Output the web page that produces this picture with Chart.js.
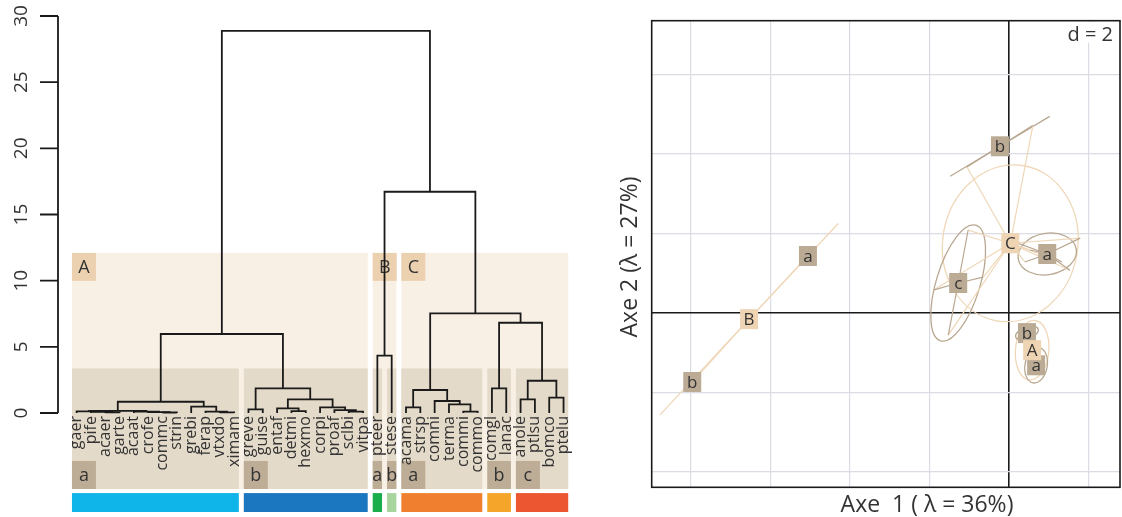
<!DOCTYPE html>
<html>
<head>
<meta charset="utf-8">
<script src="https://cdn.jsdelivr.net/npm/chart.js@4.4.0/dist/chart.umd.min.js"></script>
<style>
  html, body { margin: 0; padding: 0; background: #fff; }
  #wrap { position: relative; width: 1122px; height: 517px; }
  #dendro { position: absolute; left: 0; top: 0; }
  #ordi { position: absolute; left: 600px; top: 0; }
</style>
</head>
<body>
<div id="wrap">
  <canvas id="dendro" width="600" height="517"></canvas>
  <canvas id="ordi" width="522" height="517"></canvas>
</div>
<script>
// ---------- dendrogram data ----------
const leafNames = ["gaer","pife","acaer","garte","acaat","crofe","commc","strin","grebi","ferap","vtxdo","ximam",
  "greve","guise","entaf","detmi","hexmo","corpi","proaf","sclbi","vitpa",
  "pteer","stese",
  "acama","strsp","comni","terma","commi","commo",
  "comgl","lanac",
  "anole","ptlsu","bomco","ptelu"];
// hclust style: negative = leaf (1-based), positive = earlier merge row (1-based)
const mergeLeft  = [-3,-2,-1,-7,-6,-5,3,-11,-10,-9,7,-13,-16,-15,-20,-19,-18,14,12,11,-22,-24,-28,-27,-26,22,-30,-32,-34,28,27,26,21,20];
const mergeRight = [-4,1,2,-8,4,5,6,-12,8,9,10,-14,-17,13,-21,15,16,17,18,19,-23,-25,-29,23,24,25,-31,-33,-35,29,30,31,32,33];
const mergeHeight = [0.05,0.09,0.12,0.04,0.07,0.11,0.16,0.05,0.1,0.48,0.85,0.28,0.15,0.35,0.1,0.22,0.43,1.03,1.86,5.97,
  4.33,0.43,0.1,0.66,0.91,1.74,1.86,1.03,1.16,2.44,6.82,7.53,16.72,28.87];

const groupNames = ["A","B","C"];
const groupFirst = [0,21,23];
const groupLast  = [20,22,34];
const subNames = ["a","b","a","b","a","b","c"];
const subFirst = [0,12,21,22,23,29,31];
const subLast  = [11,20,21,22,28,30,34];
const subColors = ["#0fb4e9","#1b77c0","#1aad4b","#a8d59d","#f0802f","#f5a62a","#ec5631"];
const yTicks = [0,5,10,15,20,25,30];

// band limits on the height axis
const bandTop = 12.1, subTop = 3.37, bandBottom = -5.74, stripTop = -6.05, stripBottom = -7.48;

// ---------- ordination data ----------
const ordGroupX = [0.58,-6.54,0.03];
const ordGroupY = [-0.94,-0.16,1.75];
const grpEllA = [0.75,3.29,1.98];
const grpEllB = [0.42,0,1.70];
const grpEllAng = [85,47,80];

const subGroup = [0,0,1,1,2,2,2];
const ordSubX = [0.68,0.45,-5.06,-7.97,0.96,-0.23,-1.28];
const ordSubY = [-1.32,-0.51,1.43,-1.74,1.48,4.19,0.75];
const subEllA = [0.45,0.3,0,0,0.74,1.46,1.52];
const subEllB = [0.28,0.15,0,0,0.52,0,0.55];
const subEllAng = [80,20,0,0,10,31,73];

const memberSub = [4,4,4,4,4,4,5,5,6,6,6,6,2,3];
const memberX = [1.79,1.33,1.53,0.53,0.40,0.15,-1.06,0.60,-1.03,-1.91,-0.65,-1.53,-5.06,-7.97];
const memberY = [1.88,1.28,1.07,1.58,1.28,1.78,3.67,4.72,2.08,0.57,0.90,-0.56,1.43,-1.74];

const FONT = '"Open Sans", "DejaVu Sans", sans-serif';
const TXT = '#333333';

// ---------- build dendrogram segments ----------
const nodeX = [], nodeH = [];
function childPos(c) {
  if (c < 0) return { x: -c - 1, h: 0 };
  return { x: nodeX[c - 1], h: nodeH[c - 1] };
}
const dendroSets = [];
for (let i = 0; i < mergeLeft.length; i++) {
  const a = childPos(mergeLeft[i]), b = childPos(mergeRight[i]);
  const h = mergeHeight[i];
  nodeX.push((a.x + b.x) / 2);
  nodeH.push(h);
  dendroSets.push({
    data: [{x: a.x, y: a.h}, {x: a.x, y: h}, {x: b.x, y: h}, {x: b.x, y: b.h}],
    showLine: true, borderColor: '#1a1a1a', borderWidth: 1.8,
    pointRadius: 0, fill: false, borderJoinStyle: 'miter'
  });
}

function labelBox(ctx, l, t, w, h, fill, txt, size) {
  ctx.fillStyle = fill;
  ctx.fillRect(l, t, w, h);
  ctx.fillStyle = TXT;
  ctx.font = size + 'px ' + FONT;
  ctx.textAlign = 'center';
  ctx.textBaseline = 'middle';
  ctx.fillText(txt, l + w / 2, t + h / 2 + 1);
}

const dendroDeco = {
  id: 'dendroDeco',
  beforeDatasetsDraw(chart) {
    const ctx = chart.ctx, x = chart.scales.x, y = chart.scales.y;
    ctx.save();
    const tb = y.getPixelForValue(bandTop), ts = y.getPixelForValue(subTop);
    const bb = y.getPixelForValue(bandBottom);
    groupNames.forEach((g, i) => {
      const l = x.getPixelForValue(groupFirst[i] - 0.5) + 2.5;
      const r = x.getPixelForValue(groupLast[i] + 0.5) - 2.5;
      ctx.fillStyle = '#f8f0e5';
      ctx.fillRect(l, tb, r - l, bb - tb);
    });
    subNames.forEach((s, i) => {
      const l = x.getPixelForValue(subFirst[i] - 0.5) + 2.5;
      const r = x.getPixelForValue(subLast[i] + 0.5) - 2.5;
      ctx.fillStyle = '#e3dac9';
      ctx.fillRect(l, ts, r - l, bb - ts);
      const st = y.getPixelForValue(stripTop), sb = y.getPixelForValue(stripBottom);
      ctx.fillStyle = subColors[i];
      ctx.fillRect(l, st, r - l, sb - st);
      labelBox(ctx, l, bb - 28, Math.min(24, r - l), 28, '#bdad97', s, 18);
    });
    groupNames.forEach((g, i) => {
      const l = x.getPixelForValue(groupFirst[i] - 0.5) + 2.5;
      labelBox(ctx, l, tb, 24, 28, '#ecd1b0', g, 18);
    });
    ctx.restore();
  },
  afterDraw(chart) {
    const ctx = chart.ctx, x = chart.scales.x, y = chart.scales.y;
    ctx.save();
    // leaf labels
    ctx.fillStyle = TXT;
    ctx.font = '16px ' + FONT;
    ctx.textAlign = 'right';
    ctx.textBaseline = 'middle';
    leafNames.forEach((n, i) => {
      ctx.save();
      ctx.translate(x.getPixelForValue(i), y.getPixelForValue(0) + 3);
      ctx.rotate(-Math.PI / 2);
      ctx.fillText(n, 0, 0);
      ctx.restore();
    });
    // y axis
    const ax = chart.chartArea.left;
    ctx.strokeStyle = '#1a1a1a';
    ctx.lineWidth = 1.8;
    ctx.beginPath();
    ctx.moveTo(ax, y.getPixelForValue(yTicks[0]));
    ctx.lineTo(ax, y.getPixelForValue(yTicks[yTicks.length - 1]));
    yTicks.forEach(v => {
      const py = y.getPixelForValue(v);
      ctx.moveTo(ax - 18, py);
      ctx.lineTo(ax, py);
    });
    ctx.stroke();
    ctx.font = '19px ' + FONT;
    ctx.textAlign = 'center';
    yTicks.forEach(v => {
      ctx.save();
      ctx.translate(ax - 36, y.getPixelForValue(v));
      ctx.rotate(-Math.PI / 2);
      ctx.fillText(String(v), 0, 0);
      ctx.restore();
    });
    ctx.restore();
  }
};

new Chart(document.getElementById('dendro'), {
  type: 'scatter',
  data: { datasets: dendroSets },
  options: {
    responsive: false,
    animation: false,
    layout: { padding: { left: 58, right: 25, top: 16, bottom: 3 } },
    plugins: { legend: { display: false }, tooltip: { enabled: false } },
    scales: {
      x: { type: 'linear', display: false, min: -1.3, max: 34.8 },
      y: { type: 'linear', display: false, min: -7.63, max: 30 }
    }
  },
  plugins: [dendroDeco]
});

// ---------- ordination ----------
const BEIGE_LINE = '#efd7b8', TAN_LINE = '#b9a891';
const BEIGE_BOX = '#efd4b3', TAN_BOX = '#bcab94';

const starSets = [];
memberX.forEach((mx, k) => {
  const s = memberSub[k], g = subGroup[s];
  starSets.push({
    data: [{x: ordSubX[s], y: ordSubY[s]}, {x: mx, y: memberY[k]}],
    showLine: true, borderColor: TAN_LINE, borderWidth: 1.2, pointRadius: 0, order: 0
  });
  starSets.push({
    data: [{x: ordGroupX[g], y: ordGroupY[g]}, {x: mx, y: memberY[k]}],
    showLine: true, borderColor: BEIGE_LINE, borderWidth: 1.2, pointRadius: 0, order: 1
  });
});

function drawEll(ctx, x, y, cx, cy, a, b, ang) {
  const ux = x.getPixelForValue(1) - x.getPixelForValue(0);
  const uy = y.getPixelForValue(0) - y.getPixelForValue(1);
  ctx.beginPath();
  ctx.ellipse(x.getPixelForValue(cx), y.getPixelForValue(cy), a * ux, b * uy, -ang * Math.PI / 180, 0, 2 * Math.PI);
  ctx.stroke();
}

const ordiDeco = {
  id: 'ordiDeco',
  beforeDatasetsDraw(chart) {
    const ctx = chart.ctx, x = chart.scales.x, y = chart.scales.y, ca = chart.chartArea;
    ctx.save();
    ctx.beginPath();
    ctx.rect(ca.left, ca.top, ca.right - ca.left, ca.bottom - ca.top);
    ctx.clip();
    ctx.lineWidth = 1.3;
    ctx.strokeStyle = BEIGE_LINE;
    groupNames.forEach((g, i) => drawEll(ctx, x, y, ordGroupX[i], ordGroupY[i], grpEllA[i], grpEllB[i], grpEllAng[i]));
    ctx.strokeStyle = TAN_LINE;
    subNames.forEach((s, i) => {
      if (subEllA[i] > 0) drawEll(ctx, x, y, ordSubX[i], ordSubY[i], subEllA[i], subEllB[i], subEllAng[i]);
    });
    ctx.restore();
  },
  afterDatasetsDraw(chart) {
    const ctx = chart.ctx, x = chart.scales.x, y = chart.scales.y, ca = chart.chartArea;
    ctx.save();
    subNames.forEach((s, i) => {
      labelBox(ctx, x.getPixelForValue(ordSubX[i]) - 9, y.getPixelForValue(ordSubY[i]) - 10, 18, 20, TAN_BOX, s, 17);
    });
    groupNames.forEach((g, i) => {
      labelBox(ctx, x.getPixelForValue(ordGroupX[i]) - 9, y.getPixelForValue(ordGroupY[i]) - 10, 18, 20, BEIGE_BOX, g, 17);
    });
    // d = 2 box
    ctx.fillStyle = '#ffffff';
    ctx.fillRect(ca.right - 64, ca.top + 1, 63, 21);
    ctx.fillStyle = TXT;
    ctx.font = '20px ' + FONT;
    ctx.textAlign = 'right';
    ctx.textBaseline = 'middle';
    ctx.fillText('d = 2', ca.right - 7, ca.top + 15);
    ctx.restore();
  },
  afterDraw(chart) {
    const ctx = chart.ctx, ca = chart.chartArea;
    ctx.save();
    ctx.strokeStyle = '#1a1a1a';
    ctx.lineWidth = 1.6;
    ctx.strokeRect(ca.left, ca.top, ca.right - ca.left, ca.bottom - ca.top);
    ctx.fillStyle = TXT;
    ctx.font = '23px ' + FONT;
    ctx.textAlign = 'center';
    ctx.textBaseline = 'middle';
    ctx.fillText('Axe  1 ( \u03bb = 36%)', 327, 505);
    ctx.translate(30, 257);
    ctx.rotate(-Math.PI / 2);
    ctx.fillText('Axe 2 (\u03bb = 27%)', 0, 0);
    ctx.restore();
  }
};

function gridColor(c) { return c.tick && c.tick.value === 0 ? '#1a1a1a' : '#dcdce5'; }
function gridWidth(c) { return c.tick && c.tick.value === 0 ? 1.6 : 1.2; }

new Chart(document.getElementById('ordi'), {
  type: 'scatter',
  data: { datasets: starSets },
  options: {
    responsive: false,
    animation: false,
    layout: { padding: { left: 51.7, right: 2, top: 20.7, bottom: 29.7 } },
    plugins: { legend: { display: false }, tooltip: { enabled: false } },
    scales: {
      x: {
        type: 'linear', min: -8.99, max: 2.79,
        border: { display: false },
        ticks: { display: false, stepSize: 2, includeBounds: false },
        grid: { color: gridColor, lineWidth: gridWidth, drawTicks: false },
        afterFit: s => { s.height = 0; }
      },
      y: {
        type: 'linear', min: -4.39, max: 7.35,
        border: { display: false },
        ticks: { display: false, stepSize: 2, includeBounds: false },
        grid: { color: gridColor, lineWidth: gridWidth, drawTicks: false },
        afterFit: s => { s.width = 0; }
      }
    }
  },
  plugins: [ordiDeco]
});
</script>
</body>
</html>
